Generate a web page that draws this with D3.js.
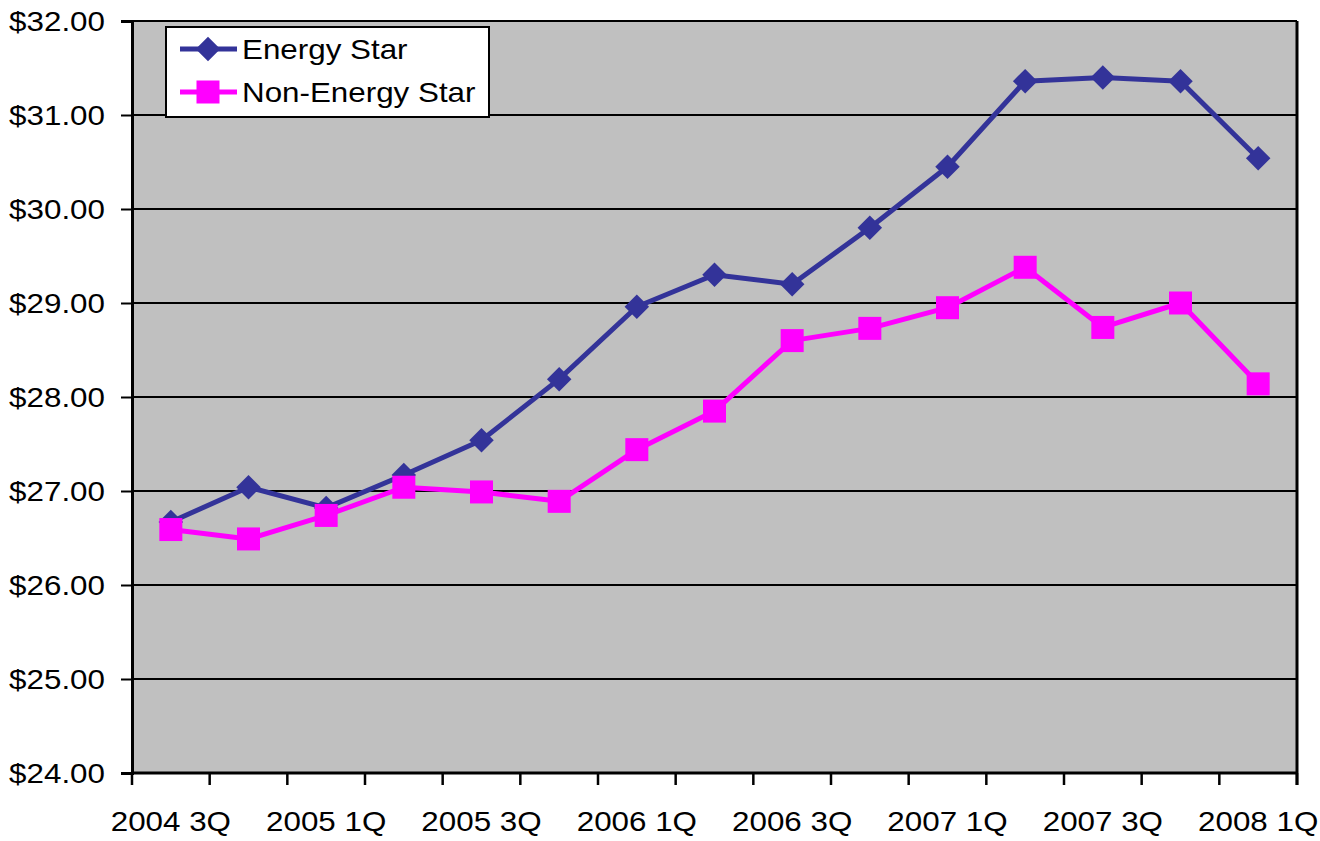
<!DOCTYPE html>
<html>
<head>
<meta charset="utf-8">
<script src="https://cdn.jsdelivr.net/npm/d3@7"></script>
<style>
  html, body { margin: 0; padding: 0; background: #fff; }
  svg { display: block; }
  text { font-family: "Liberation Sans", Arial, sans-serif; fill: #000; }
</style>
</head>
<body>
<svg id="chart" width="1320" height="841"></svg>
<script>
// ---- data ----
const categories = ["2004 3Q","2004 4Q","2005 1Q","2005 2Q","2005 3Q","2005 4Q","2006 1Q","2006 2Q",
                    "2006 3Q","2006 4Q","2007 1Q","2007 2Q","2007 3Q","2007 4Q","2008 1Q"];
const energyStar    = [26.67, 27.04, 26.82, 27.17, 27.54, 28.19, 28.96, 29.30, 29.20, 29.80, 30.45, 31.36, 31.40, 31.36, 30.54];
const nonEnergyStar = [26.59, 26.49, 26.74, 27.04, 26.99, 26.89, 27.44, 27.85, 28.60, 28.73, 28.95, 29.38, 28.74, 29.00, 28.14];
const seriesNames = ["Energy Star", "Non-Energy Star"];
const yTicks = [24, 25, 26, 27, 28, 29, 30, 31, 32];
const xLabelCats = ["2004 3Q","2005 1Q","2005 3Q","2006 1Q","2006 3Q","2007 1Q","2007 3Q","2008 1Q"];

(function () {
// ---- layout ----
const pL = 132, pR = 1297, pT = 21, pB = 773;
const stretch = 1.12;
const svg = d3.select("#chart");

const x = d3.scaleBand().domain(categories).range([pL, pR]).paddingInner(0).paddingOuter(0);
const y = d3.scaleLinear().domain([24, 32]).range([pB, pT]);
const cx = d => x(d) + x.bandwidth() / 2;

// plot background
svg.append("rect").attr("x", pL).attr("y", pT).attr("width", pR - pL).attr("height", pB - pT)
  .attr("fill", "#C0C0C0");

// gridlines
svg.append("g").selectAll("line").data(yTicks).join("line")
  .attr("x1", pL).attr("x2", pR)
  .attr("y1", d => y(d)).attr("y2", d => y(d))
  .attr("stroke", "#000").attr("stroke-width", 2);

// right border
svg.append("line").attr("x1", pR).attr("x2", pR).attr("y1", pT).attr("y2", pB + 12)
  .attr("stroke", "#000").attr("stroke-width", 3);

// y axis
const yAxis = d3.axisLeft(y).tickValues(yTicks).tickSize(11).tickFormat(d => "$" + d3.format(".2f")(d));
const gy = svg.append("g").attr("transform", `translate(${pL},0)`).call(yAxis);
gy.select(".domain").attr("stroke", "#000").attr("stroke-width", 3);
gy.selectAll(".tick line").attr("stroke", "#000").attr("stroke-width", 2);
gy.selectAll(".tick text").remove();
svg.append("g").selectAll("text").data(yTicks).join("text")
  .attr("text-anchor", "end")
  .attr("font-size", 28)
  .attr("transform", d => `translate(105,${y(d) + 10}) scale(${stretch},1)`)
  .text(d => "$" + d3.format(".2f")(d));

// x axis (ticks at category boundaries)
const boundaries = categories.map(c => x(c)).concat([pR]);
svg.append("line").attr("x1", pL - 1).attr("x2", pR).attr("y1", pB).attr("y2", pB)
  .attr("stroke", "#000").attr("stroke-width", 3);
svg.append("g").selectAll("line").data(boundaries).join("line")
  .attr("x1", d => d).attr("x2", d => d).attr("y1", pB).attr("y2", pB + 12)
  .attr("stroke", "#000").attr("stroke-width", 2.5);
svg.append("g").selectAll("text").data(xLabelCats).join("text")
  .attr("text-anchor", "middle")
  .attr("font-size", 28)
  .attr("transform", d => `translate(${cx(d)},831) scale(${stretch},1)`)
  .text(d => d);

// series
const lineGen = vals => d3.line().x((v, i) => cx(categories[i])).y(v => y(v))(vals);
const colors = ["#333399", "#FF00FF"];

svg.append("path").attr("d", lineGen(energyStar)).attr("fill", "none")
  .attr("stroke", colors[0]).attr("stroke-width", 5).attr("stroke-linejoin", "round");
const diamond = d3.symbol().type(d3.symbolSquare).size(300);
svg.append("g").selectAll("path").data(energyStar).join("path")
  .attr("d", diamond())
  .attr("transform", (v, i) => `translate(${cx(categories[i])},${y(v)}) rotate(45)`)
  .attr("fill", colors[0]);

svg.append("path").attr("d", lineGen(nonEnergyStar)).attr("fill", "none")
  .attr("stroke", colors[1]).attr("stroke-width", 5).attr("stroke-linejoin", "round");
svg.append("g").selectAll("rect").data(nonEnergyStar).join("rect")
  .attr("x", (v, i) => cx(categories[i]) - 11.5).attr("y", v => y(v) - 11.5)
  .attr("width", 23).attr("height", 23)
  .attr("fill", colors[1]);

// legend
const lg = svg.append("g");
lg.append("rect").attr("x", 166).attr("y", 27).attr("width", 323).attr("height", 90)
  .attr("fill", "#fff").attr("stroke", "#000").attr("stroke-width", 2);
const rowsY = [49, 92];
seriesNames.forEach((name, i) => {
  const ry = rowsY[i];
  lg.append("line").attr("x1", 180).attr("x2", 237).attr("y1", ry).attr("y2", ry)
    .attr("stroke", colors[i]).attr("stroke-width", 5);
  if (i === 0) {
    lg.append("path").attr("d", d3.symbol().type(d3.symbolSquare).size(300)())
      .attr("transform", `translate(208,${ry}) rotate(45)`).attr("fill", colors[0]);
  } else {
    lg.append("rect").attr("x", 208 - 11.5).attr("y", ry - 11.5).attr("width", 23).attr("height", 23)
      .attr("fill", colors[1]);
  }
  lg.append("text").attr("font-size", 28)
    .attr("transform", `translate(242,${ry + 10}) scale(${stretch},1)`)
    .text(name);
});
})();
</script>
</body>
</html>
